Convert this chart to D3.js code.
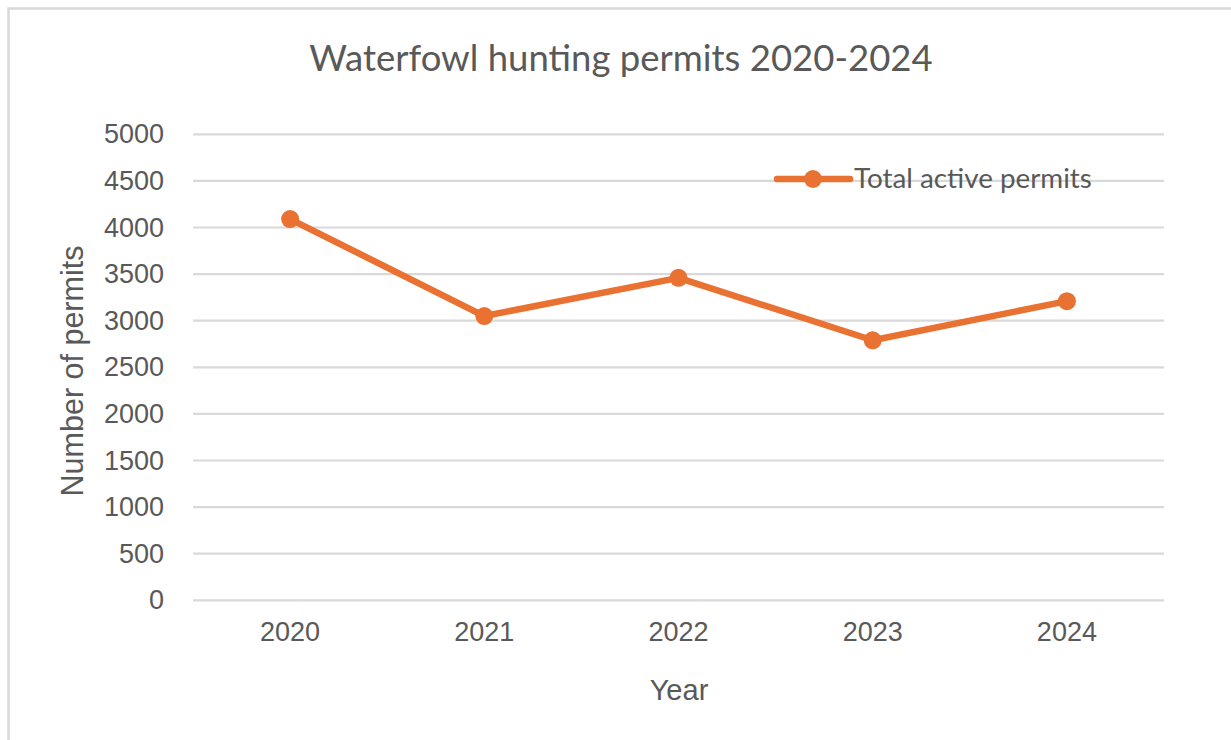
<!DOCTYPE html>
<html lang="en">
<head>
    <meta charset="UTF-8">
    <title>Waterfowl hunting permits</title>
    <script src="https://d3js.org/d3.v7.min.js"></script>
    <style>
        body { margin: 0; background: #fff; }
        svg { display: block; }
    </style>
</head>
<body>
<div id="chart"></div>

<script type="text/javascript">

    // data
    var years = ["2020", "2021", "2022", "2023", "2024"];
    var permits = [4090, 3050, 3460, 2790, 3210];
    var yTicks = [0, 500, 1000, 1500, 2000, 2500, 3000, 3500, 4000, 4500, 5000];
    var seriesName = "Total active permits";

    var width = 1231, height = 740;
    var plotLeft = 193, plotRight = 1164, plotTop = 134.3, plotBottom = 600.3;
    var orange = "#E97132", grey = "#595959", gridGrey = "#d9d9d9";

    var svg = d3.select("#chart")
        .append("svg")
        .attr("width", width)
        .attr("height", height);

    // outer frame
    svg.append("rect")
        .attr("x", 8.5).attr("y", 8.5)
        .attr("width", width + 10).attr("height", height + 10)
        .attr("fill", "none")
        .attr("stroke", gridGrey)
        .attr("stroke-width", 2.5);

    var x = d3.scaleBand().domain(years).range([plotLeft, plotRight]);
    var y = d3.scaleLinear().domain([0, 5000]).range([plotBottom, plotTop]);

    // gridlines
    svg.append("g")
        .selectAll("line")
        .data(yTicks)
        .enter()
        .append("line")
        .attr("x1", plotLeft).attr("x2", plotRight)
        .attr("y1", function(d) { return y(d); })
        .attr("y2", function(d) { return y(d); })
        .attr("stroke", gridGrey)
        .attr("stroke-width", 2.2);

    // y axis labels
    var yAxis = d3.axisLeft(y).tickValues(yTicks).tickFormat(d3.format("d"))
        .tickSize(0).tickPadding(29);
    var gy = svg.append("g").attr("transform", "translate(" + plotLeft + ",0)").call(yAxis);
    gy.select(".domain").remove();
    gy.selectAll("text")
        .attr("fill", grey)
        .style("font-family", "Liberation Sans, Arial, sans-serif")
        .style("font-size", "27px");

    // x axis labels
    var xAxis = d3.axisBottom(x).tickSize(0).tickPadding(22);
    var gx = svg.append("g").attr("transform", "translate(0," + plotBottom + ")").call(xAxis);
    gx.select(".domain").remove();
    gx.selectAll("text")
        .attr("fill", grey)
        .style("font-family", "Liberation Sans, Arial, sans-serif")
        .style("font-size", "27px");

    // title
    svg.append("text")
        .attr("x", 621).attr("y", 71)
        .attr("text-anchor", "middle")
        .attr("fill", grey)
        .style("font-family", "Lato, sans-serif")
        .style("font-size", "36.5px")
        .text("Waterfowl hunting permits 2020-2024");

    // axis titles
    svg.append("text")
        .attr("transform", "translate(83,371) rotate(-90)")
        .attr("text-anchor", "middle")
        .attr("fill", grey)
        .style("font-family", "Liberation Sans, Arial, sans-serif")
        .style("font-size", "30.5px")
        .text("Number of permits");

    svg.append("text")
        .attr("x", 679).attr("y", 700)
        .attr("text-anchor", "middle")
        .attr("fill", grey)
        .style("font-family", "Liberation Sans, Arial, sans-serif")
        .style("font-size", "29px")
        .text("Year");

    // series line
    var line = d3.line()
        .x(function(d, i) { return x(years[i]) + x.bandwidth() / 2; })
        .y(function(d) { return y(d); });

    svg.append("path")
        .datum(permits)
        .attr("d", line)
        .attr("fill", "none")
        .attr("stroke", orange)
        .attr("stroke-width", 6.5)
        .attr("stroke-linejoin", "round");

    svg.append("g")
        .selectAll("circle")
        .data(permits)
        .enter()
        .append("circle")
        .attr("cx", function(d, i) { return x(years[i]) + x.bandwidth() / 2; })
        .attr("cy", function(d) { return y(d); })
        .attr("r", 9)
        .attr("fill", orange);

    // legend
    var legend = svg.append("g").attr("transform", "translate(777,179)");
    legend.append("line")
        .attr("x1", 0).attr("x2", 73)
        .attr("stroke", orange)
        .attr("stroke-width", 6.5)
        .attr("stroke-linecap", "round");
    legend.append("circle")
        .attr("cx", 36).attr("r", 9)
        .attr("fill", orange);
    legend.append("text")
        .attr("x", 77).attr("y", 9)
        .attr("fill", grey)
        .style("font-family", "Lato, sans-serif")
        .style("font-size", "27.8px")
        .text(seriesName);

</script>

</body>
</html>
